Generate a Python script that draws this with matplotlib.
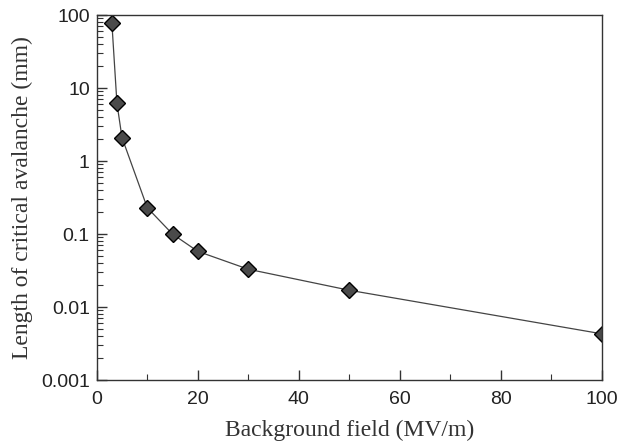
import matplotlib
matplotlib.use("Agg")
import matplotlib.pyplot as plt
from matplotlib.ticker import FixedLocator, LogLocator, NullFormatter

# background field (MV/m) vs critical avalanche length (mm)
field = [3, 4, 5, 10, 15, 20, 30, 50, 100]
length = [78, 6.2, 2.1, 0.23, 0.10, 0.058, 0.033, 0.017, 0.0043]

ytick_vals = [100, 10, 1, 0.1, 0.01, 0.001]
ytick_labels = ["100", "10", "1", "0.1", "0.01", "0.001"]

fig = plt.figure(figsize=(6.2, 4.43), dpi=100)
ax = fig.add_axes([0.156, 0.142, 0.815, 0.824])

ax.plot(field, length, color="#444444", lw=0.9, marker="D", markersize=8,
        markerfacecolor="#4a4a4a", markeredgecolor="black", markeredgewidth=1.0)

ax.set_yscale("log")
ax.set_xlim(0, 100)
ax.set_ylim(0.001, 100)

ax.set_xticks([0, 20, 40, 60, 80, 100])
ax.xaxis.set_minor_locator(FixedLocator([10, 30, 50, 70, 90]))
ax.set_yticks(ytick_vals)
ax.set_yticklabels(ytick_labels)
ax.yaxis.set_minor_locator(LogLocator(base=10, subs=range(2, 10)))
ax.yaxis.set_minor_formatter(NullFormatter())

tick_font = "Liberation Sans"
for lab in ax.get_xticklabels() + ax.get_yticklabels():
    lab.set_fontfamily(tick_font)
    lab.set_fontsize(14)
    lab.set_color("#222222")

ax.tick_params(which="major", direction="in", length=7, width=1, color="#333333")
ax.tick_params(which="minor", direction="in", length=4, width=0.8, color="#333333")
ax.tick_params(axis="x", which="both", top=False, pad=8)
ax.tick_params(axis="y", which="both", right=False, pad=5)

for s in ax.spines.values():
    s.set_color("#333333")
    s.set_linewidth(1.0)

ax.set_xlabel("Background field (MV/m)", fontfamily="Liberation Serif", fontsize=17,
              color="#333333", labelpad=8)
ax.set_ylabel("Length of critical avalanche (mm)", fontfamily="Liberation Serif", fontsize=17,
              color="#333333", labelpad=6)

fig.savefig("out.png", dpi=100)
